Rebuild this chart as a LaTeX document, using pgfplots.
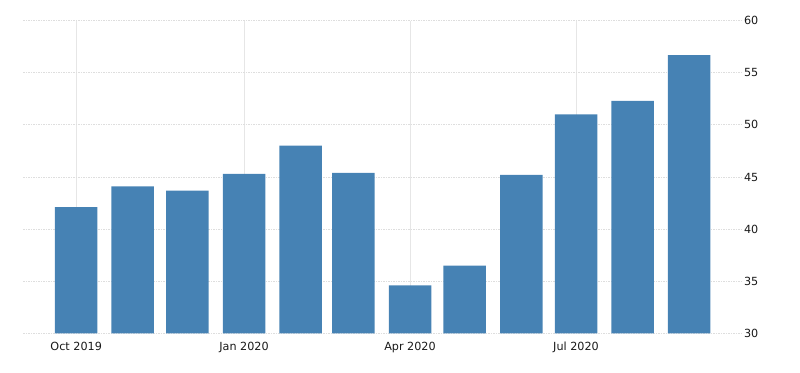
\documentclass[border=0pt]{standalone}
\usepackage{pgfplots}
\pgfplotsset{compat=1.18}
\usepackage{fontspec}
\setmainfont{DejaVu Sans}
\definecolor{barblue}{RGB}{70,130,180}
\definecolor{gridh}{RGB}{222,222,222}
\definecolor{gridv}{RGB}{230,230,230}
\begin{document}
\begin{tikzpicture}
\useasboundingbox (-23.3bp,-39.7bp) rectangle (776.7bp,312.6bp+20.7bp);
\begin{axis}[
  at={(0,0)}, anchor=south west,
  scale only axis,
  width=718.7bp, height=312.6bp,
  xmin=-29, xmax=365,
  ymin=30, ymax=60,
  axis line style={draw=none},
  major tick length=0pt,
  xtick={0,92,183,274},
  xticklabels={Oct 2019,Jan 2020,Apr 2020,Jul 2020},
  ytick={30,35,40,45,50,55,60},
  yticklabel pos=right,
  ymajorgrids, xmajorgrids,
  y grid style={gridh, line width=0.9bp, dash pattern=on 1.5bp off 1bp},
  x grid style={gridv, line width=0.8bp},
  tick label style={font=\fontsize{11.2bp}{13bp}\selectfont, text=black!90},
  xticklabel style={yshift=-5bp},
  yticklabel style={anchor=west, xshift=-1.5bp},
  /pgf/number format/assume math mode=true,
  ybar, bar width=42.5bp,
]
\addplot[draw=none, fill=barblue] coordinates {
(0,42.1) (31,44.1) (61,43.7) (92,45.3) (123,48.0) (152,45.4)
(183,34.6) (213,36.5) (244,45.2) (274,51.0) (305,52.3) (336,56.7)
};
\end{axis}
\end{tikzpicture}
\end{document}
